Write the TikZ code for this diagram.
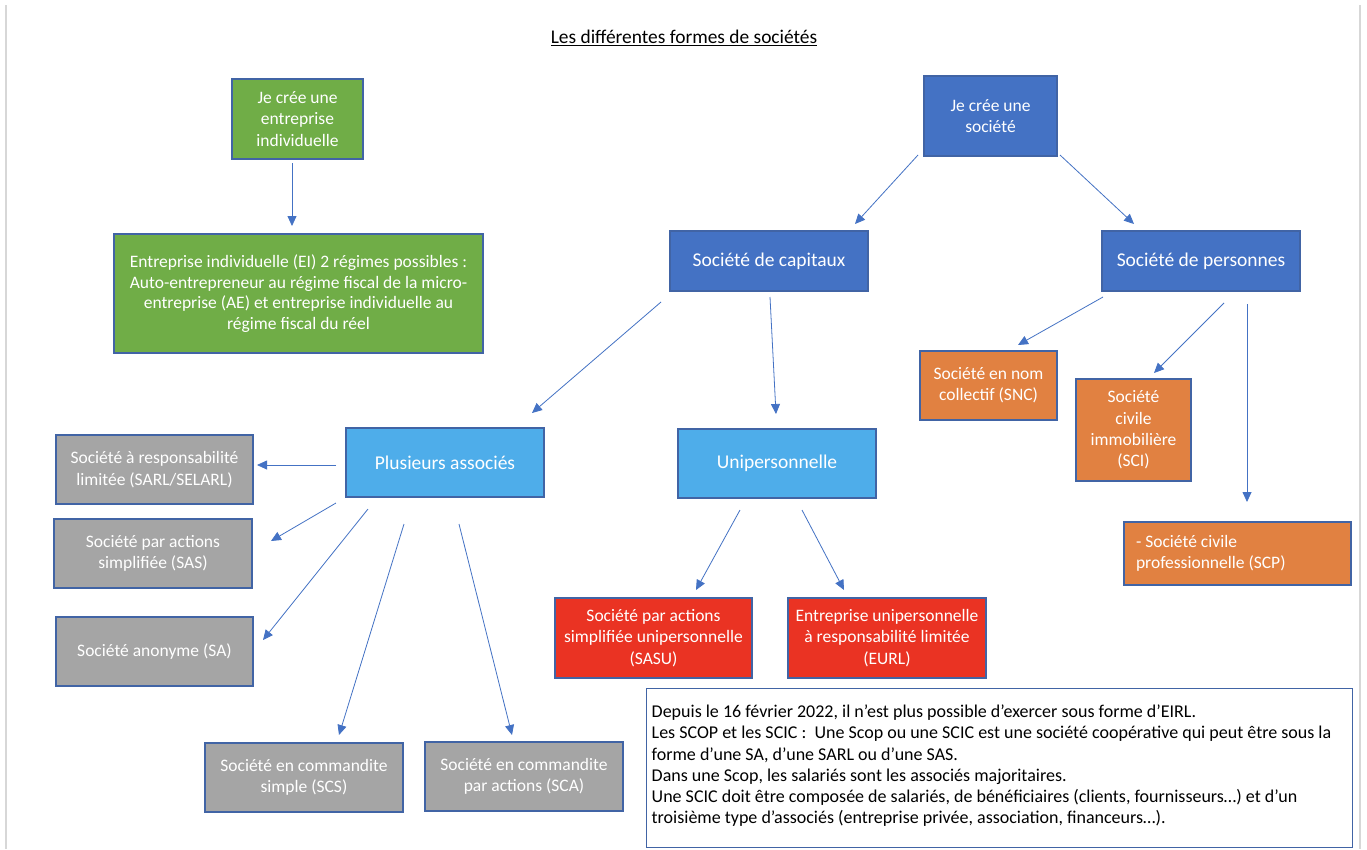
\documentclass[tikz,border=0pt]{standalone}
\usepackage{fontspec}
\setmainfont{Carlito}
\usetikzlibrary{arrows.meta}
\definecolor{vert}{RGB}{112,173,71}
\definecolor{bleu}{RGB}{68,114,196}
\definecolor{ciel}{RGB}{78,173,234}
\definecolor{gris}{RGB}{165,165,165}
\definecolor{rouge}{RGB}{234,51,35}
\definecolor{orange}{RGB}{225,129,65}
\definecolor{bord}{RGB}{65,100,165}
\definecolor{trait}{RGB}{68,114,196}
\definecolor{page}{RGB}{215,215,215}
% lignes serrees comme dans Word
\newcommand\serre{\lineskiplimit=-30pt\lineskip=0pt\relax}

\begin{document}
\begin{tikzpicture}[x=1pt,y=-1pt,
  boite/.style={draw=bord,line width=1.3pt,text=white,align=flush center,inner sep=0pt,
    font=\fontsize{17.5}{21.3}\selectfont\serre},
  grand/.style={font=\fontsize{19.5}{23}\selectfont},
  fleche/.style={draw=trait,line width=0.8pt,-{Triangle[length=10pt,width=9pt]}}]
\useasboundingbox[fill=white] (0,0) rectangle (1367,849);
\draw[page,line width=2pt] (6,5) -- (6,849);
\draw[page,line width=2pt] (1360,5) -- (1360,849);

\node[font=\fontsize{19.4}{23}\selectfont] (titre) at (684,38) {\underline{Les différentes formes de sociétés}};

% entreprise individuelle
\node[boite,fill=vert,minimum width=131pt,minimum height=80pt] (ei) at (297.5,119) {Je crée une\\entreprise\\individuelle};
\node[boite,fill=vert,minimum width=369pt,minimum height=119pt,font=\fontsize{17.5}{20.8}\selectfont\serre] (eidet) at (298.5,293.5) {Entreprise individuelle (EI) 2 régimes possibles :\\Auto-entrepreneur au régime fiscal de la micro-\\entreprise (AE) et entreprise individuelle au\\régime fiscal du réel};

% societes
\node[boite,fill=bleu,minimum width=133pt,minimum height=80pt] (soc) at (990.5,116) {Je crée une\\société};
\node[boite,grand,fill=bleu,minimum width=198pt,minimum height=60pt] (cap) at (769,261) {Société de capitaux};
\node[boite,grand,fill=bleu,minimum width=198pt,minimum height=60pt] (pers) at (1201,261) {Société de personnes};
\node[boite,grand,fill=ciel,minimum width=198pt,minimum height=69pt] (plus) at (445,462.5) {Plusieurs associés};
\node[boite,grand,fill=ciel,minimum width=198pt,minimum height=69pt] (uni) at (777,463.5) {Unipersonnelle};

\node[boite,fill=gris,minimum width=197pt,minimum height=69pt] (sarl) at (154.5,469.5) {Société à responsabilité\\limitée (SARL/SELARL)};
\node[boite,fill=gris,minimum width=198pt,minimum height=69pt] (sas) at (153,553.5) {Société par actions\\simplifiée (SAS)};
\node[boite,fill=gris,minimum width=197pt,minimum height=69pt] (sa) at (154.5,651.5) {Société anonyme (SA)};
\node[boite,fill=gris,minimum width=198pt,minimum height=69pt] (scs) at (304,777.5) {Société en commandite\\simple (SCS)};
\node[boite,fill=gris,minimum width=198pt,minimum height=69pt] (sca) at (524,776.5) {Société en commandite\\par actions (SCA)};

\node[boite,fill=rouge,minimum width=197pt,minimum height=80pt] (sasu) at (653.5,638) {Société par actions\\simplifiée unipersonnelle\\(SASU)};
\node[boite,fill=rouge,minimum width=198pt,minimum height=80pt] (eurl) at (887,638) {Entreprise unipersonnelle\\à responsabilité limitée\\(EURL)};

\node[boite,fill=orange,minimum width=137pt,minimum height=69pt] (snc) at (988.5,385.5) {Société en nom\\collectif (SNC)};
\node[boite,fill=orange,minimum width=115pt,minimum height=102pt] (sci) at (1133.5,430) {Société\\civile\\immobilière\\(SCI)};
\node[boite,fill=orange,minimum width=227pt,minimum height=63pt,text width=203pt,align=flush left] (scp) at (1237.5,553.5) {- Société civile\\professionnelle (SCP)};

% encadre du bas
\node[draw=bord,line width=1pt,fill=white,minimum width=706pt,minimum height=159pt,inner sep=0pt] (note) at (999,767.5) {};
\node[anchor=north west,align=left,inner sep=0pt,font=\fontsize{18}{21.3}\selectfont\serre]
  (notetexte) at ([xshift=6pt,yshift=-17pt]note.north west) {Depuis le 16 février 2022, il n’est plus possible d’exercer sous forme d’EIRL.\\
Les SCOP et les SCIC :\ \ Une Scop ou une SCIC est une société coopérative qui peut être sous la\\
forme d'une SA, d'une SARL ou d'une SAS.\\
Dans une Scop, les salariés sont les associés majoritaires.\\
Une SCIC doit être composée de salariés, de bénéficiaires (clients, fournisseurs…) et d’un\\
troisième type d’associés (entreprise privée, association, financeurs…).};

% bouts des fleches
\coordinate (d1) at (292,163);  \coordinate (f1) at (292,226);
\coordinate (d2) at (918,155);  \coordinate (f2) at (855,224);
\coordinate (d3) at (1060,155); \coordinate (f3) at (1134,224);
\coordinate (d4) at (661,302);  \coordinate (f4) at (532,413);
\coordinate (d5) at (770,297);  \coordinate (f5) at (776,414);
\coordinate (d6) at (1103,297); \coordinate (f6) at (1018,345);
\coordinate (d7) at (1224,303); \coordinate (f7) at (1154,373);
\coordinate (d8) at (1247,304); \coordinate (f8) at (1247,502);
\coordinate (d9) at (336,465);  \coordinate (f9) at (257,465);
\coordinate (d10) at (336,503); \coordinate (f10) at (271,541);
\coordinate (d11) at (368,509); \coordinate (f11) at (263,640);
\coordinate (d12) at (404,524); \coordinate (f12) at (339,735);
\coordinate (d13) at (459,524); \coordinate (f13) at (512,735);
\coordinate (d14) at (740,510); \coordinate (f14) at (696,590);
\coordinate (d15) at (802,510); \coordinate (f15) at (844,590);
\foreach \i in {1,...,15}
  \draw[fleche] (d\i) -- (f\i);
\end{tikzpicture}
\end{document}
